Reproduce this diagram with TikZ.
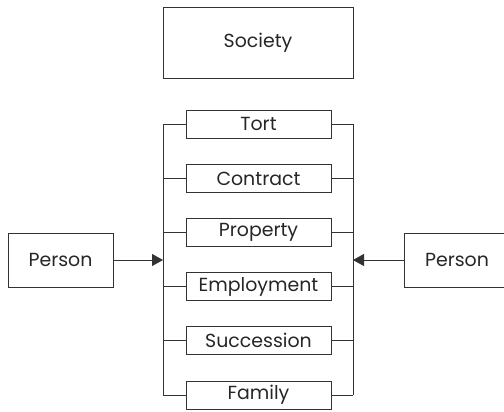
\documentclass[tikz,border=0pt]{standalone}
\usepackage{fontspec}
\setmainfont{Poppins}
\usetikzlibrary{arrows.meta}
\begin{document}
\begin{tikzpicture}[x=1bp,y=-1bp,
  every node/.style={font=\fontsize{19}{22}\selectfont, text=black!85},
  box/.style={draw=black!80, line width=0.9bp, inner sep=0pt, anchor=center},
  area/.style={box, minimum width=145bp, minimum height=28bp},
  link/.style={draw=black!80, line width=0.9bp},
  arr/.style={link, -{Triangle[length=11bp,width=12bp]}}]
\useasboundingbox (0,0) rectangle (504,411);
% top box
\node[box, minimum width=190bp, minimum height=71bp] (soc) at (258,42.5) {Society};
% areas of law
\node[area] (tort) at (258.5,124) {Tort};
\node[area] (contract) at (258.5,178.5) {Contract};
\node[area] (property) at (258.5,232.5) {Property};
\node[area] (employment) at (258.5,286.5) {Employment};
\node[area] (succession) at (258.5,340.5) {Succession};
\node[area] (family) at (258.5,395) {Family};
% the two parties
\node[box, minimum width=105bp, minimum height=54bp] (pl) at (60.5,260) {Person};
\node[box, minimum width=106bp, minimum height=54bp] (pr) at (457,260) {Person};
% bus lines either side
\coordinate (lbus) at (163,0);
\coordinate (rbus) at (353,0);
\draw[link] (tort.west -| lbus) -- (family.west -| lbus);
\draw[link] (tort.east -| rbus) -- (family.east -| rbus);
\foreach \n in {tort,contract,property,employment,succession,family}{
  \draw[link] (\n.west) -- (\n.west -| lbus);
  \draw[link] (\n.east) -- (\n.east -| rbus);
}
\draw[arr] (pl.east) -- (pl.east -| lbus);
\draw[arr] (pr.west) -- (pr.west -| rbus);
\end{tikzpicture}
\end{document}
